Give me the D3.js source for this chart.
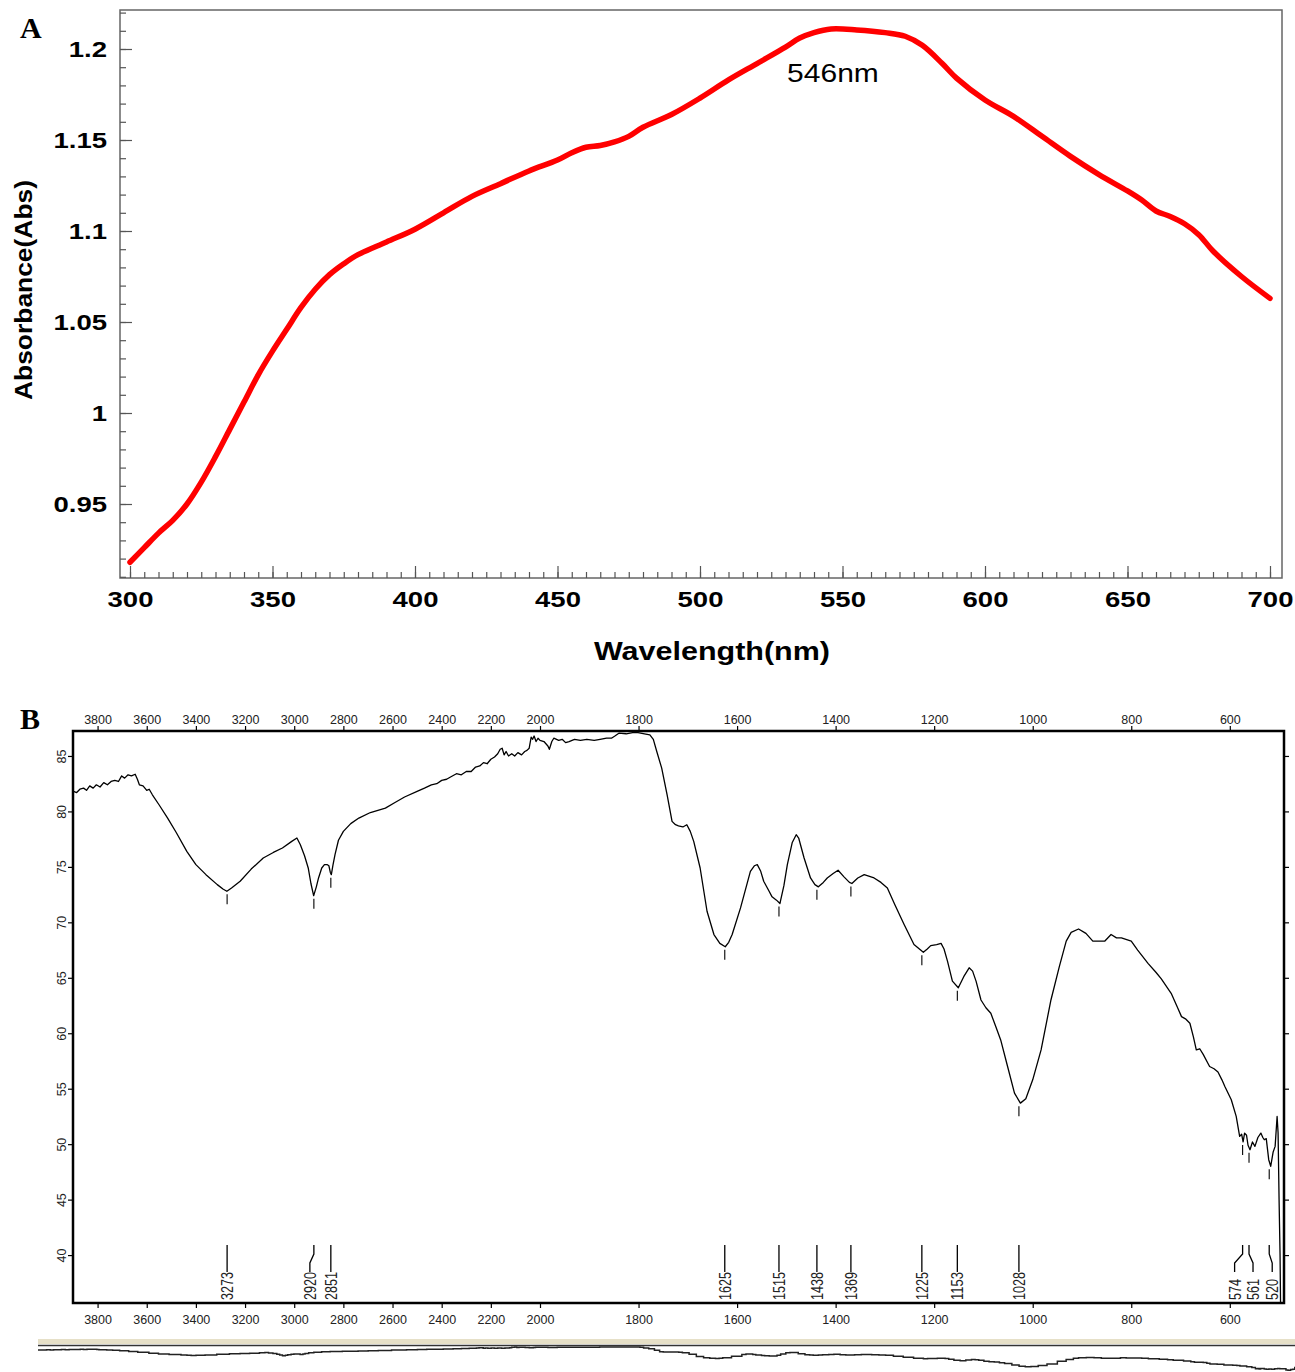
<!DOCTYPE html>
<html lang="en">
<head>
  <meta charset="UTF-8">
  <title>UV-Vis and FTIR spectra</title>
  <script src="https://d3js.org/d3.v7.min.js"></script>
  <style>
    body {
      margin: 0;
      background: #fff;
    }
    svg {
      display: block;
      font-family: Arial, "Liberation Sans", sans-serif;
    }
  </style>
</head>
<body>
  <script>
    const width = 1295;
    const height = 1372;

    // Panel A - UV-Vis absorbance
    const uvWavelength = [300, 305, 310, 315, 320, 325, 330, 335, 340, 345, 350, 355, 360, 365, 370, 375, 380, 390,
      400, 410, 420, 430, 440, 450, 455, 460, 465, 470, 475, 480, 490, 500, 510, 520, 530, 535, 540, 546, 555, 565,
      572, 578, 585, 590, 600, 610, 620, 630, 640, 650, 655, 660, 665, 670, 675, 680, 690, 700];
    const uvAbsorbance = [0.918, 0.926, 0.934, 0.941, 0.950, 0.962, 0.976, 0.991, 1.006, 1.021, 1.034, 1.046, 1.058,
      1.068, 1.076, 1.082, 1.087, 1.094, 1.101, 1.110, 1.119, 1.126, 1.133, 1.139, 1.143, 1.146, 1.147, 1.149, 1.152,
      1.157, 1.164, 1.173, 1.183, 1.192, 1.201, 1.206, 1.209, 1.211, 1.2105, 1.209, 1.207, 1.202, 1.192, 1.184, 1.172,
      1.163, 1.152, 1.141, 1.131, 1.122, 1.117, 1.111, 1.108, 1.104, 1.098, 1.089, 1.075, 1.063];
    const uvXTicks = [300, 350, 400, 450, 500, 550, 600, 650, 700];
    const uvYTicks = [0.95, 1, 1.05, 1.1, 1.15, 1.2];

    // Panel B - FTIR transmittance
    const irWavenumber = [3898, 3885, 3872, 3857, 3845, 3832, 3818, 3805, 3790, 3775, 3760, 3745, 3730, 3715, 3702,
      3690, 3676, 3662, 3647, 3638, 3630, 3615, 3600, 3590, 3577, 3550, 3515, 3480, 3437, 3400, 3359, 3313, 3290,
      3274, 3255, 3220, 3175, 3126, 3085, 3048, 3010, 2989, 2975, 2958, 2943, 2932, 2921, 2910, 2901, 2888, 2877,
      2865, 2859, 2853, 2849, 2842, 2834, 2820, 2800, 2770, 2737, 2690, 2629, 2590, 2551, 2500, 2470, 2442, 2420,
      2400, 2380, 2364, 2340, 2320, 2300, 2280, 2262, 2245, 2230, 2215, 2200, 2185, 2172, 2162, 2154, 2146, 2138,
      2128, 2115, 2103, 2090, 2075, 2062, 2053, 2044, 2036, 2030, 2024, 2016, 2008, 2000, 1992, 1984, 1981, 1976,
      1972, 1962, 1955, 1948, 1941, 1930, 1918, 1905, 1890, 1878, 1865, 1855, 1848, 1840, 1825, 1812, 1801, 1788,
      1777, 1770, 1763, 1753, 1742, 1732, 1725, 1719, 1710, 1702, 1695, 1688, 1675, 1661, 1647, 1635, 1624, 1617,
      1610, 1593, 1573, 1565, 1559, 1552, 1546, 1535, 1529, 1520, 1513, 1505, 1498, 1488, 1480, 1475, 1464, 1451,
      1442, 1435, 1425, 1417, 1405, 1395, 1383, 1372, 1367, 1355, 1342, 1322, 1308, 1295, 1280, 1261, 1241, 1222,
      1214, 1207, 1195, 1186, 1180, 1173, 1163, 1151, 1140, 1129, 1122, 1115, 1105, 1095, 1085, 1075, 1065, 1051,
      1037, 1025, 1014, 1000, 983, 963, 946, 932, 922, 907, 892, 878, 866, 854, 841, 830, 820, 800, 787, 766, 750,
      739, 719, 705, 698, 690, 681, 674, 668, 661, 654, 641, 632, 624, 616, 610, 597, 587, 580, 576, 573, 570, 566,
      563, 559, 554, 549, 543, 537, 533, 530, 526, 521, 517, 512, 508, 504, 502, 500, 498, 497];
    const irTransmittance = [81.8, 81.7, 82.0, 82.1, 81.9, 82.3, 82.1, 82.4, 82.2, 82.6, 82.4, 82.7, 82.8, 82.7, 83.2,
      83.0, 83.3, 83.2, 83.35, 82.9, 82.4, 82.3, 81.9, 82.0, 81.5, 80.6, 79.4, 78.1, 76.4, 75.2, 74.3, 73.4, 73.0,
      72.8, 73.1, 73.7, 74.8, 75.8, 76.3, 76.7, 77.3, 77.6, 77.0, 76.0, 74.9, 73.5, 72.4, 73.2, 74.0, 74.9, 75.2,
      75.2, 75.1, 74.5, 74.3, 75.2, 76.1, 77.4, 78.2, 78.9, 79.4, 79.9, 80.3, 80.8, 81.3, 81.8, 82.1, 82.4, 82.5,
      82.8, 82.9, 83.1, 83.4, 83.3, 83.6, 83.6, 84.0, 84.1, 84.4, 84.3, 84.7, 84.9, 85.2, 85.6, 85.7, 85.1, 85.4,
      85.0, 85.2, 85.0, 85.3, 85.1, 85.4, 85.5, 85.7, 86.7, 86.5, 86.8, 86.3, 86.6, 86.4, 86.3, 85.9, 85.6, 86.3,
      86.6, 86.4, 86.5, 86.2, 86.3, 86.5, 86.4, 86.5, 86.4, 86.5, 86.6, 86.6, 86.8, 87.05, 87.0, 87.1, 87.1, 87.0,
      86.9, 86.5, 85.4, 83.9, 81.5, 79.1, 78.8, 78.7, 78.6, 78.8, 78.2, 77.3, 74.9, 71.0, 68.9, 68.1, 67.8, 68.2,
      68.9, 71.3, 74.6, 75.1, 75.2, 74.6, 73.7, 72.8, 72.3, 72.0, 71.7, 73.3, 75.2, 77.2, 77.9, 77.6, 75.8, 74.0,
      73.4, 73.2, 73.6, 74.0, 74.4, 74.7, 74.1, 73.6, 73.5, 74.0, 74.3, 74.0, 73.6, 73.1, 71.6, 69.8, 68.0, 67.3,
      67.6, 67.9, 68.0, 68.1, 67.6, 66.5, 64.7, 64.1, 65.1, 65.9, 65.6, 64.7, 63.0, 62.3, 61.8, 60.6, 59.4, 57.0,
      54.6, 53.7, 54.1, 55.8, 58.5, 63.0, 66.0, 68.3, 69.1, 69.4, 69.0, 68.3, 68.3, 68.3, 68.9, 68.6, 68.6, 68.3,
      67.5, 66.3, 65.5, 64.9, 63.6, 62.2, 61.5, 61.3, 60.9, 59.7, 58.5, 58.6, 58.1, 57.0, 56.8, 56.5, 55.8, 55.2,
      54.0, 52.5, 50.7, 50.9, 50.2, 51.0, 50.8, 49.9, 49.5, 50.2, 49.8, 50.6, 51.0, 50.6, 50.4, 50.5, 48.6, 48.0,
      49.3, 49.8, 52.5, 51.0, 45.0, 40.0, 35.7];
    const irXTicks = [3800, 3600, 3400, 3200, 3000, 2800, 2600, 2400, 2200, 2000, 1800, 1600, 1400, 1200, 1000, 800, 600];
    const irYTicks = [40, 45, 50, 55, 60, 65, 70, 75, 80, 85];
    const peakWavenumber = [3273, 2920, 2851, 1625, 1515, 1438, 1369, 1225, 1153, 1028, 574, 561, 520];
    const peakTransmittance = [72.8, 72.4, 74.3, 67.8, 71.7, 73.2, 73.5, 67.3, 64.1, 53.7, 50.2, 49.5, 48.0];

    const svg = d3.select("body")
      .append("svg")
      .attr("width", width)
      .attr("height", height);

    // widen text horizontally like the stretched original
    function stretch(sel, k) {
      sel.each(function () {
        const w = this.getComputedTextLength();
        this.setAttribute("textLength", w * k);
        this.setAttribute("lengthAdjust", "spacingAndGlyphs");
      });
    }

    // ---------- Panel A ----------
    const xA = d3.scaleLinear().domain([300, 700]).range([130, 1270]);
    const yA = d3.scaleLinear().domain([0.95, 1.2]).range([504, 49]);
    const gA = svg.append("g");

    gA.append("rect")
      .attr("x", 120).attr("y", 10)
      .attr("width", 1162).attr("height", 568)
      .attr("fill", "none")
      .attr("stroke", "#666")
      .attr("stroke-width", 1.5);

    // minor ticks
    gA.append("g")
      .attr("transform", "translate(0,578)")
      .call(d3.axisBottom(xA).tickValues(d3.range(300, 701, 5)).tickSize(-6).tickFormat(""))
      .call(g => g.select(".domain").remove());
    gA.append("g")
      .attr("transform", "translate(120,0)")
      .call(d3.axisLeft(yA).tickValues(d3.range(91, 123).map(d => d / 100)).tickSize(-6).tickFormat(""))
      .call(g => g.select(".domain").remove());

    // major ticks + labels
    gA.append("g")
      .attr("transform", "translate(0,578)")
      .call(d3.axisBottom(xA).tickValues(uvXTicks).tickSize(-12).tickPadding(13).tickFormat(d3.format("d")))
      .call(g => g.select(".domain").remove());
    gA.append("g")
      .attr("transform", "translate(120,0)")
      .call(d3.axisLeft(yA).tickValues(uvYTicks).tickSize(-12).tickPadding(13).tickFormat(d => d))
      .call(g => g.select(".domain").remove());

    gA.selectAll(".tick line").attr("stroke", "#555").attr("stroke-width", 1.2);
    gA.selectAll(".tick text")
      .attr("font-family", "Arial, 'Liberation Sans', sans-serif")
      .attr("font-size", 22)
      .attr("font-weight", "bold")
      .attr("fill", "#000")
      .call(stretch, 1.25);

    const uvLine = d3.line()
      .x((d, i) => xA(uvWavelength[i]))
      .y(d => yA(d))
      .curve(d3.curveCatmullRom.alpha(0.5));

    gA.append("path")
      .attr("d", uvLine(uvAbsorbance))
      .attr("fill", "none")
      .attr("stroke", "#ff0000")
      .attr("stroke-width", 5.5)
      .attr("stroke-linecap", "round")
      .attr("stroke-linejoin", "round");

    gA.append("text")
      .attr("x", 833).attr("y", 82)
      .attr("text-anchor", "middle")
      .attr("font-size", 25)
      .text("546nm")
      .call(stretch, 1.2);

    gA.append("text")
      .attr("x", 712).attr("y", 660)
      .attr("text-anchor", "middle")
      .attr("font-size", 25)
      .attr("font-weight", "bold")
      .text("Wavelength(nm)")
      .call(stretch, 1.22);

    gA.append("text")
      .attr("transform", "translate(32,290) rotate(-90)")
      .attr("text-anchor", "middle")
      .attr("font-size", 24)
      .attr("font-weight", "bold")
      .attr("textLength", 220)
      .attr("lengthAdjust", "spacingAndGlyphs")
      .text("Absorbance(Abs)");

    svg.append("text")
      .attr("x", 20).attr("y", 38)
      .attr("font-family", "'Liberation Serif', 'Times New Roman', serif")
      .attr("font-size", 30)
      .attr("font-weight", "bold")
      .text("A");

    // ---------- Panel B ----------
    const xB = d3.scaleLinear().domain([3900, 2000, 490]).range([73, 540, 1284]);
    const yB = d3.scaleLinear().domain([35.68, 87.25]).range([1303, 731]);
    const gB = svg.append("g");

    svg.append("text")
      .attr("x", 20).attr("y", 729)
      .attr("font-family", "'Liberation Serif', 'Times New Roman', serif")
      .attr("font-size", 30)
      .attr("font-weight", "bold")
      .text("B");

    gB.append("g")
      .attr("transform", "translate(0,731)")
      .call(d3.axisTop(xB).tickValues(irXTicks).tickSize(5).tickPadding(2).tickFormat(d3.format("d")));
    gB.append("g")
      .attr("transform", "translate(0,1303)")
      .call(d3.axisBottom(xB).tickValues(irXTicks).tickSize(5).tickPadding(7).tickFormat(d3.format("d")));
    const ayB = gB.append("g")
      .attr("transform", "translate(73,0)")
      .call(d3.axisLeft(yB).tickValues(irYTicks).tickSize(5));
    gB.append("g")
      .attr("transform", "translate(1284,0)")
      .call(d3.axisRight(yB).tickValues(irYTicks).tickSize(5).tickFormat(""));

    gB.selectAll(".domain").remove();
    gB.selectAll(".tick line").attr("stroke", "#000").attr("stroke-width", 1.2);
    gB.selectAll(".tick text")
      .attr("font-family", "Arial, 'Liberation Sans', sans-serif")
      .attr("font-size", 12.5)
      .attr("fill", "#222");
    ayB.selectAll(".tick text")
      .attr("transform", "rotate(-90)")
      .attr("x", 0).attr("y", -7).attr("dy", 0)
      .attr("text-anchor", "middle");

    gB.append("rect")
      .attr("x", 73).attr("y", 731)
      .attr("width", 1284 - 73).attr("height", 1303 - 731)
      .attr("fill", "none")
      .attr("stroke", "#000")
      .attr("stroke-width", 2.5);

    const irLine = d3.line()
      .x((d, i) => xB(irWavenumber[i]))
      .y(d => yB(d));

    gB.append("path")
      .attr("d", irLine(irTransmittance))
      .attr("fill", "none")
      .attr("stroke", "#000")
      .attr("stroke-width", 1.3)
      .attr("stroke-linejoin", "round");

    // little marks under each labelled band
    gB.selectAll(".pk")
      .data(peakWavenumber)
      .join("line")
      .attr("class", "pk")
      .attr("x1", d => xB(d)).attr("x2", d => xB(d))
      .attr("y1", (d, i) => yB(peakTransmittance[i]) + 3)
      .attr("y2", (d, i) => yB(peakTransmittance[i]) + 13)
      .attr("stroke", "#000")
      .attr("stroke-width", 1.1);

    // peak labels along the bottom
    const labelShift = { 2920: -4, 574: -8, 561: 4, 520: 3 };
    const lab = gB.selectAll(".plab")
      .data(peakWavenumber)
      .join("g")
      .attr("class", "plab");

    lab.append("path")
      .attr("d", d => {
        const x = xB(d), tx = x + (labelShift[d] || 0);
        return `M${x},1245V1254L${tx},1263V1272`;
      })
      .attr("fill", "none")
      .attr("stroke", "#000")
      .attr("stroke-width", 1.3);

    lab.append("text")
      .attr("transform", d => `translate(${xB(d) + (labelShift[d] || 0)},1300) rotate(-90)`)
      .attr("dy", "0.36em")
      .attr("font-size", 17)
      .attr("fill", "#222")
      .attr("textLength", d => String(d).length * 7)
      .attr("lengthAdjust", "spacingAndGlyphs")
      .text(d => d);

    // ---------- overview strip at the very bottom ----------
    svg.append("rect")
      .attr("x", 38).attr("y", 1339)
      .attr("width", 1257).attr("height", 5)
      .attr("fill", "#e6e0c8");
    svg.append("line")
      .attr("x1", 38).attr("x2", 1295)
      .attr("y1", 1345.5).attr("y2", 1345.5)
      .attr("stroke", "#333")
      .attr("stroke-width", 1.5);

    svg.append("clipPath")
      .attr("id", "miniClip")
      .append("rect")
      .attr("x", 38).attr("y", 1346)
      .attr("width", 1257).attr("height", 26);

    const xMini = d3.scaleLinear().domain([3900, 2000, 490]).range([29, 521, 1302]);
    const yMini = d3.scaleLinear().domain([87, 35]).range([1347, 1378]);
    const miniLine = d3.line()
      .x((d, i) => xMini(irWavenumber[i]))
      .y(d => yMini(d))
      .curve(d3.curveStepAfter);

    svg.append("path")
      .attr("clip-path", "url(#miniClip)")
      .attr("d", miniLine(irTransmittance))
      .attr("fill", "none")
      .attr("stroke", "#222")
      .attr("stroke-width", 1.5);
  </script>
</body>
</html>
